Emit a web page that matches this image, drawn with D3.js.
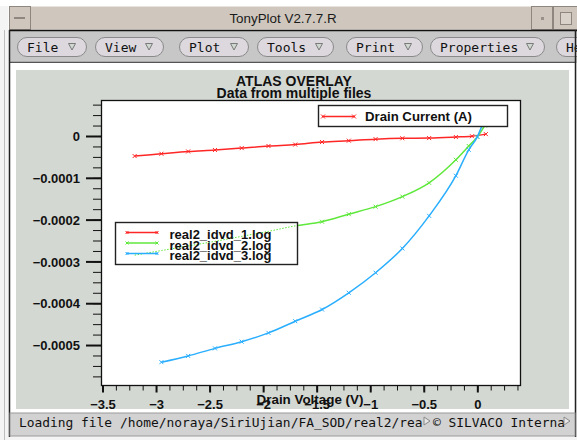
<!DOCTYPE html>
<html>
<head>
<meta charset="utf-8">
<script src="https://cdn.jsdelivr.net/npm/d3@7"></script>
<style>
  html, body { margin: 0; padding: 0; background: #f2f2f2; }
  svg { display: block; }
</style>
</head>
<body>
<div id="chart"></div>
<script>
// drain voltage (V) / drain current (A), one pair of arrays per log file
const voltage1 = [-3.2, -2.95, -2.7, -2.45, -2.2, -1.95, -1.7, -1.45, -1.2, -0.95, -0.7, -0.45, -0.2, -0.05, 0.08]
const current1 = [-4.8e-5, -4.25e-5, -3.7e-5, -3.35e-5, -2.9e-5, -2.4e-5, -2.05e-5, -1.45e-5, -1.12e-5, -0.75e-5, -0.55e-5, -0.5e-5, -0.25e-5, -0.05e-5, 0.45e-5]

const voltage2 = [-3.2, -2.95, -2.7, -2.45, -2.2, -1.95, -1.7, -1.45, -1.2, -0.95, -0.7, -0.45, -0.2, -0.08, 0, 0.07]
const current2 = [-2.85e-4, -2.74e-4, -2.63e-4, -2.52e-4, -2.4e-4, -2.28e-4, -2.15e-4, -2.05e-4, -1.87e-4, -1.69e-4, -1.45e-4, -1.12e-4, -0.57e-4, -0.24e-4, -0.02e-4, 0.25e-4]

const voltage3 = [-2.95, -2.7, -2.45, -2.2, -1.95, -1.7, -1.45, -1.2, -0.95, -0.7, -0.45, -0.2, -0.08, 0, 0.05]
const current3 = [-5.41e-4, -5.26e-4, -5.08e-4, -4.92e-4, -4.71e-4, -4.43e-4, -4.15e-4, -3.75e-4, -3.27e-4, -2.69e-4, -1.91e-4, -0.95e-4, -0.33e-4, -0.02e-4, 0.29e-4]

const fileNames = ['real2_idvd_1.log', 'real2_idvd_2.log', 'real2_idvd_3.log']
const seriesColors = ['#ff2626', '#5fe83c', '#2aaeff']

const xTicks = [-3.5, -3, -2.5, -2, -1.5, -1, -0.5, 0]
const yTicks = [-0.0005, -0.0004, -0.0003, -0.0002, -0.0001, 0]

const menuItems = ['File', 'View', 'Plot', 'Tools', 'Print', 'Properties', 'Help']

const W = 577
const H = 440
const SANS = '"Liberation Sans", Arial, sans-serif'
const MONO = '"DejaVu Sans Mono", monospace'

const svg = d3.select('#chart').append('svg').attr('width', W).attr('height', H)

// ---------- window chrome ----------
svg.append('rect').attr('width', W).attr('height', H).attr('fill', '#f4f4f4')
svg.append('rect').attr('x', 0).attr('y', 0).attr('width', W).attr('height', 6).attr('fill', '#ffffff')

// title bar
svg.append('rect').attr('x', 9).attr('y', 6).attr('width', W - 9).attr('height', 24)
  .attr('fill', '#cfc7bd').attr('stroke', '#ffffff').attr('stroke-width', 1)
svg.append('rect').attr('x', 9.5).attr('y', 6.5).attr('width', 21).attr('height', 23)
  .attr('fill', '#cfc7bd').attr('stroke', '#8f877f')
svg.append('rect').attr('x', 14).attr('y', 17).attr('width', 11).attr('height', 2).attr('fill', '#8f877f')
svg.append('rect').attr('x', 531.5).attr('y', 6.5).attr('width', 21).attr('height', 23)
  .attr('fill', '#cfc7bd').attr('stroke', '#8f877f')
svg.append('rect').attr('x', 541).attr('y', 17).attr('width', 3).attr('height', 3).attr('fill', '#9a928a')
svg.append('rect').attr('x', 553.5).attr('y', 6.5).attr('width', 24).attr('height', 23)
  .attr('fill', '#cfc7bd').attr('stroke', '#8f877f')
svg.append('rect').attr('x', 560.5).attr('y', 12.5).attr('width', 11).attr('height', 12)
  .attr('fill', '#d8d2ca').attr('stroke', '#8f877f')
svg.append('text').attr('x', 283).attr('y', 22.5).attr('text-anchor', 'middle')
  .attr('font-family', SANS).attr('font-size', '13.4px').attr('fill', '#1a1a1a')
  .text('TonyPlot V2.7.7.R')

// menu bar
svg.append('rect').attr('x', 9).attr('y', 30).attr('width', W - 9).attr('height', 33).attr('fill', '#c7c7c7')
svg.append('line').attr('x1', 9).attr('x2', W).attr('y1', 30.5).attr('y2', 30.5).attr('stroke', '#111').attr('stroke-width', 1.5)
svg.append('line').attr('x1', 10).attr('x2', 575).attr('y1', 62.5).attr('y2', 62.5).attr('stroke', '#555').attr('stroke-width', 1.5)

const buttonSpans = [[17, 86], [95, 163], [179, 248], [257, 333], [346, 422], [430, 544], [556, 620]]
const btn = svg.append('g').selectAll('g').data(menuItems).join('g')
btn.append('rect')
  .attr('x', (d, i) => buttonSpans[i][0] + 0.5).attr('y', 37.5)
  .attr('width', (d, i) => buttonSpans[i][1] - buttonSpans[i][0]).attr('height', 19)
  .attr('rx', 9.5).attr('fill', '#dcd8de').attr('stroke', '#8a8a8a')
btn.append('text')
  .attr('x', (d, i) => buttonSpans[i][0] + 10).attr('y', 51.5)
  .attr('font-family', MONO).attr('font-size', '13px').attr('fill', '#111')
  .text(d => d)
btn.filter(d => d !== 'Help').append('path')
  .attr('d', (d, i) => {
    const cx = buttonSpans[i][1] - 14
    return `M${cx - 3.5},${43.5}L${cx + 3.5},${43.5}L${cx},${50}Z`
  })
  .attr('fill', '#cfd8d0').attr('stroke', '#7a7a7a')

// window content and frame
svg.append('rect').attr('x', 10).attr('y', 63).attr('width', 565).attr('height', 350).attr('fill', '#ffffff')
svg.append('line').attr('x1', 9.5).attr('x2', 9.5).attr('y1', 30).attr('y2', 437).attr('stroke', '#222').attr('stroke-width', 1.5)
svg.append('line').attr('x1', 575.5).attr('x2', 575.5).attr('y1', 30).attr('y2', 437).attr('stroke', '#222').attr('stroke-width', 1.5)
svg.append('line').attr('x1', 4.5).attr('x2', 4.5).attr('y1', 30).attr('y2', 440).attr('stroke', '#bdbdbd')

// status bar
svg.append('rect').attr('x', 10).attr('y', 413).attr('width', 565).attr('height', 23)
  .attr('fill', '#d2d2d2').attr('stroke', '#9a9a9a')
svg.append('text').attr('x', 19).attr('y', 426.5)
  .attr('font-family', MONO).attr('font-size', '12.9px').attr('fill', '#111')
  .text('Loading file /home/noraya/SiriUjian/FA_SOD/real2/rea')
svg.append('text').attr('x', 433).attr('y', 426.5)
  .attr('font-family', MONO).attr('font-size', '12.9px').attr('fill', '#111')
  .text('© SILVACO Interna')
;[424, 564].forEach(tx => {
  svg.append('path').attr('d', `M${tx},${417}L${tx + 6},${421}L${tx},${425}Z`)
    .attr('fill', '#e6e6e6').attr('stroke', '#8a8a8a')
})

// ---------- plot panel ----------
const panel = { x: 16, y: 70, w: 553, h: 339 }
svg.append('clipPath').attr('id', 'panelClip').append('rect')
  .attr('x', panel.x).attr('y', panel.y).attr('width', panel.w).attr('height', panel.h)
svg.append('rect').attr('x', panel.x).attr('y', panel.y).attr('width', panel.w).attr('height', panel.h)
  .attr('fill', '#d4d8d3')

const g = svg.append('g').attr('clip-path', 'url(#panelClip)')

const margin = { top: 100, right: 521, bottom: 386, left: 101 }
const x = d3.scaleLinear().domain([-3.514, 0.408]).range([margin.left, margin.right])
const y = d3.scaleLinear().domain([-0.000598, 0.0000861]).range([margin.bottom, margin.top])

g.append('rect').attr('x', margin.left).attr('y', margin.top)
  .attr('width', margin.right - margin.left).attr('height', margin.bottom - margin.top)
  .attr('fill', '#ffffff')

// title
g.append('text').attr('x', 294).attr('y', 86.3).attr('text-anchor', 'middle')
  .attr('font-family', SANS).attr('font-weight', 'bold').attr('font-size', '14px').attr('fill', '#111')
  .text('ATLAS OVERLAY')
g.append('text').attr('x', 294).attr('y', 97.6).attr('text-anchor', 'middle')
  .attr('font-family', SANS).attr('font-weight', 'bold').attr('font-size', '14px').attr('fill', '#111')
  .text('Data from multiple files')

// axes
const fmt = d3.format('~g')
const xMinor = d3.range(-3.5, 0.4, 0.125)
const yMinor = d3.range(-0.000575, 0.0000876, 0.000025)

const styleAxis = a => {
  a.select('.domain').remove()
  a.selectAll('line').attr('stroke', '#111')
  a.selectAll('text').attr('font-family', SANS).attr('font-weight', 'bold')
    .attr('font-size', '13px').attr('fill', '#111')
}

g.append('g').attr('transform', `translate(${margin.left},0)`)
  .call(d3.axisLeft(y).tickValues(yMinor).tickSize(8).tickFormat(''))
  .call(styleAxis)
g.append('g').attr('transform', `translate(${margin.left},0)`)
  .call(d3.axisLeft(y).tickValues(yTicks).tickSize(15).tickPadding(6).tickFormat(fmt))
  .call(styleAxis)
  .call(a => a.selectAll('line').attr('stroke-width', 2))
  .call(a => a.selectAll('text').attr('dy', '0.36em'))

g.append('g').attr('transform', `translate(0,${margin.bottom})`)
  .call(d3.axisBottom(x).tickValues(xMinor).tickSize(4.5).tickFormat(''))
  .call(styleAxis)
g.append('g').attr('transform', `translate(0,${margin.bottom})`)
  .call(d3.axisBottom(x).tickValues(xTicks).tickSize(6.5).tickPadding(7).tickFormat(fmt))
  .call(styleAxis)
  .call(a => a.selectAll('line').attr('stroke-width', 2))

g.append('text').attr('x', 310).attr('y', 404).attr('text-anchor', 'middle')
  .attr('font-family', SANS).attr('font-weight', 'bold').attr('font-size', '13.4px').attr('fill', '#111')
  .text('Drain Voltage (V)')

// plot frame
g.append('rect').attr('x', margin.left + 0.5).attr('y', margin.top + 0.5)
  .attr('width', margin.right - margin.left - 1).attr('height', margin.bottom - margin.top - 1)
  .attr('fill', 'none').attr('stroke', '#111').attr('stroke-width', 1.3)

// ---------- curves ----------
const series = [
  d3.zip(voltage1, current1),
  d3.zip(voltage2, current2),
  d3.zip(voltage3, current3)
]
const line = d3.line().x(d => x(d[0])).y(d => y(d[1])).curve(d3.curveMonotoneX)

svg.append('clipPath').attr('id', 'plotClip').append('rect')
  .attr('x', margin.left).attr('y', margin.top)
  .attr('width', margin.right - margin.left).attr('height', margin.bottom - margin.top)

const cross = (px, py, s) => `M${px - s},${py - s}L${px + s},${py + s}M${px - s},${py + s}L${px + s},${py - s}`

const plot = g.append('g').attr('clip-path', 'url(#plotClip)')

const drawSeries = (parent, dash) => {
  parent.selectAll('g.curve').data(series).join('g').attr('class', 'curve')
    .each(function (d, i) {
      const sg = d3.select(this)
      sg.append('path').attr('d', line(d)).attr('fill', 'none')
        .attr('stroke', seriesColors[i]).attr('stroke-width', dash ? 1 : 1.5)
        .attr('stroke-dasharray', dash ? '1.5,1.5' : null)
      if (!dash) {
        sg.append('path').attr('d', d.map(p => cross(x(p[0]), y(p[1]), 2)).join(''))
          .attr('fill', 'none').attr('stroke', seriesColors[i]).attr('stroke-width', 1)
      }
    })
}
drawSeries(plot, false)

// legend: files
const leg = { x: 115, y: 222, w: 182, h: 42 }
g.append('rect').attr('x', leg.x + 0.5).attr('y', leg.y + 0.5).attr('width', leg.w).attr('height', leg.h)
  .attr('fill', '#ffffff').attr('stroke', '#222').attr('stroke-width', 1.4)
svg.append('clipPath').attr('id', 'legClip').append('rect')
  .attr('x', leg.x + 1).attr('y', leg.y + 1).attr('width', leg.w - 1).attr('height', leg.h - 1)
drawSeries(g.append('g').attr('clip-path', 'url(#legClip)'), true)

const legRows = g.append('g').selectAll('g').data(fileNames).join('g')
  .attr('transform', (d, i) => `translate(0,${232.5 + i * 10.5})`)
legRows.append('line').attr('x1', 126).attr('x2', 158)
  .attr('stroke', (d, i) => seriesColors[i]).attr('stroke-width', 1.5)
legRows.append('path').attr('d', d => cross(127, 0, 1.5) + cross(157, 0, 1.5))
  .attr('stroke', (d, i) => seriesColors[i]).attr('fill', 'none')
legRows.append('text').attr('x', 169.5).attr('y', 6.8)
  .attr('font-family', SANS).attr('font-weight', 'bold').attr('font-size', '13px').attr('fill', '#111')
  .text(d => d)

// legend: quantity
g.append('rect').attr('x', 318.5).attr('y', 105.5).attr('width', 189).attr('height', 21)
  .attr('fill', '#ffffff').attr('stroke', '#222').attr('stroke-width', 1.4)
g.append('line').attr('x1', 322).attr('x2', 355).attr('y1', 116.5).attr('y2', 116.5)
  .attr('stroke', seriesColors[0]).attr('stroke-width', 1.5)
g.append('path').attr('d', cross(323, 116.5, 2) + cross(354, 116.5, 2))
  .attr('stroke', seriesColors[0]).attr('fill', 'none')
g.append('text').attr('x', 365).attr('y', 121.3)
  .attr('font-family', SANS).attr('font-weight', 'bold').attr('font-size', '13.2px').attr('fill', '#111')
  .text('Drain Current (A)')
</script>
</body>
</html>
